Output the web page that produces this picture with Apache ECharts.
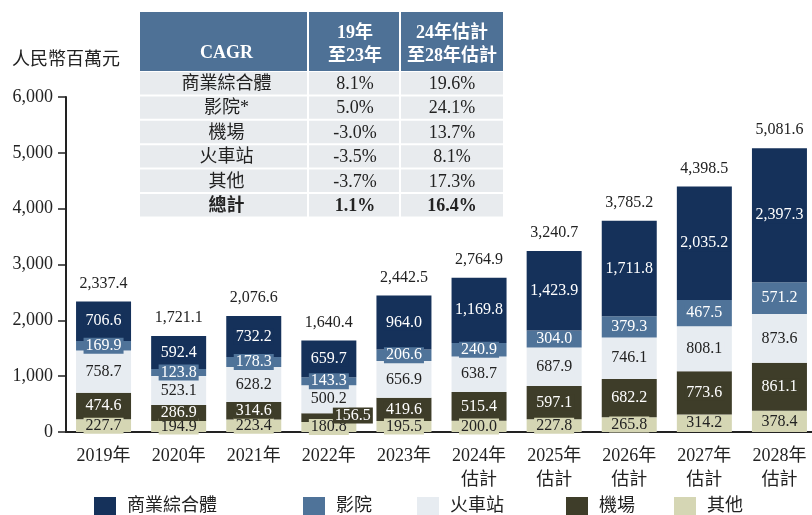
<!DOCTYPE html>
<html><head><meta charset="utf-8">
<script src="https://cdn.jsdelivr.net/npm/echarts@6/dist/echarts.min.js"></script>
<style>html,body{margin:0;padding:0;background:#fff}#c{width:812px;height:515px}</style>
</head><body><div id="c"></div>
<script>
const categories = ['2019年','2020年','2021年','2022年','2023年','2024年\n估計','2025年\n估計','2026年\n估計','2027年\n估計','2028年\n估計'];
const seriesNames = ['商業綜合體','影院','火車站','機場','其他'];
const mall    = [706.6,592.4,732.2,659.7,964.0,1169.8,1423.9,1711.8,2035.2,2397.3];
const cinema  = [169.9,123.8,178.3,143.3,206.6,240.9,304.0,379.3,467.5,571.2];
const railway = [758.7,523.1,628.2,500.2,656.9,638.7,687.9,746.1,808.1,873.6];
const airport = [474.6,286.9,314.6,156.5,419.6,515.4,597.1,682.2,773.6,861.1];
const others  = [227.7,194.9,223.4,180.8,195.5,200.0,227.8,265.8,314.2,378.4];
const totals  = [2337.4,1721.1,2076.6,1640.4,2442.5,2764.9,3240.7,3785.2,4398.5,5081.6];
const yTicks = [0,1000,2000,3000,4000,5000,6000];
const cagrHeader = ['CAGR','19年\n至23年','24年估計\n至28年估計'];
const cagrRows = ['商業綜合體','影院*','機場','火車站','其他','總計'];
const cagr1923 = ['8.1%','5.0%','-3.0%','-3.5%','-3.7%','1.1%'];
const cagr2428 = ['19.6%','24.1%','13.7%','8.1%','17.3%','16.4%'];

const FONT = '"Liberation Serif","Noto Sans CJK TC",serif';
const colors = {'商業綜合體':'#15315a','影院':'#4f7399','火車站':'#e7ecf1','機場':'#3e3d29','其他':'#d5d6b4'};
const textColors = {'商業綜合體':'#ffffff','影院':'#ffffff','火車站':'#222222','機場':'#ffffff','其他':'#222222'};
function fmt(v){ const s=v.toFixed(1).split('.'); return s[0].replace(/\B(?=(\d{3})+(?!\d))/g, ',')+'.'+s[1]; }

const stackOrder = [['其他',others],['機場',airport],['火車站',railway],['影院',cinema],['商業綜合體',mall]];
const series = stackOrder.map(([name, arr]) => ({
  name, type:'bar', stack:'t', barWidth:55,
  itemStyle:{color:colors[name]},
  data: arr.map((v,i) => {
    const d = {value:v};
    if (name==='機場' && i===3) d.label = {offset:[24,-2]};
    return d;
  }),
  label:{show:true, position:'inside', formatter:p=>fmt(p.value), color:textColors[name],
    fontFamily:FONT, fontSize:16, backgroundColor:colors[name], padding:[0,2], lineHeight:16}
}));
series.push({
  name:'total', type:'bar', stack:'t', barWidth:55, itemStyle:{color:'transparent'},
  data: totals.map(()=>0),
  label:{show:true, position:'top', distance:10, formatter:p=>fmt(totals[p.dataIndex]), color:'#222', fontFamily:FONT, fontSize:16}
});

// table graphic
const g = [];
const tx = 140, tw = 363, colX = [140,309,401,503];
g.push({type:'rect', shape:{x:tx,y:12,width:tw,height:59}, style:{fill:'#4e7196'}});
const hdrY = [[53],[33,56],[33,56]];
cagrHeader.forEach((h,ci)=>{
  const cx = (colX[ci]+colX[ci+1])/2 + (ci===0?2:0);
  h.split('\n').forEach((line,li)=>{
    g.push({type:'text', x:cx, y:hdrY[ci][li], style:{text:line, fill:'#fff', font:'bold 18px '+FONT, align:'center', verticalAlign:'middle'}});
  });
});
const rowTop = 72, rowH = 24.4;
cagrRows.forEach((r,ri)=>{
  const y0 = rowTop + ri*rowH;
  g.push({type:'rect', shape:{x:tx,y:y0,width:tw,height:rowH-2}, style:{fill:'#e8ebee'}});
  const bold = ri===cagrRows.length-1;
  const vals = [r, cagr1923[ri], cagr2428[ri]];
  vals.forEach((v,ci)=>{
    const cx = (colX[ci]+colX[ci+1])/2 + (ci===0?2:0);
    g.push({type:'text', x:cx, y:y0+(rowH-2)/2+1, style:{text:v, fill:'#222', font:(bold?'bold ':'')+'18px '+FONT, align:'center', verticalAlign:'middle'}});
  });
});
[308,400].forEach(x=>g.push({type:'rect', shape:{x:x-1,y:12,width:2,height:207}, style:{fill:'#fff'}}));

const legendPos = [94,303,417,566,674];
const legends = ['商業綜合體','影院','火車站','機場','其他'].map((n,i)=>({
  data:[n], left:legendPos[i], top:497, padding:0, itemWidth:22, itemHeight:19, icon:'rect', itemGap:0,
  textStyle:{fontFamily:FONT, fontSize:18, color:'#222', padding:[0,0,0,6]}
}));

const chart = echarts.init(document.getElementById('c'));
chart.setOption({
  animation:false,
  grid:{left:66, right:-5, top:97, bottom:83, outerBoundsMode:'none', containLabel:false},
  legend: legends,
  xAxis:{type:'category', data:categories,
    axisLine:{lineStyle:{color:'#222', width:2}}, axisTick:{show:false},
    axisLabel:{fontFamily:FONT, fontSize:18, color:'#222', margin:12, lineHeight:24, interval:0}},
  yAxis:{type:'value', min:0, max:6000, interval:1000,
    name:'人民幣百萬元', nameLocation:'end', nameGap:28,
    nameTextStyle:{fontFamily:FONT, fontSize:18, color:'#222'},
    axisLine:{show:true, lineStyle:{color:'#222', width:2}},
    axisTick:{show:true, length:8, inside:false, lineStyle:{color:'#222', width:1.5}},
    splitLine:{show:false},
    axisLabel:{fontFamily:FONT, fontSize:18, color:'#222', margin:13,
      formatter:v=> yTicks.includes(v) ? v.toLocaleString('en-US') : ''}},
  series,
  graphic: g
});
</script></body></html>
